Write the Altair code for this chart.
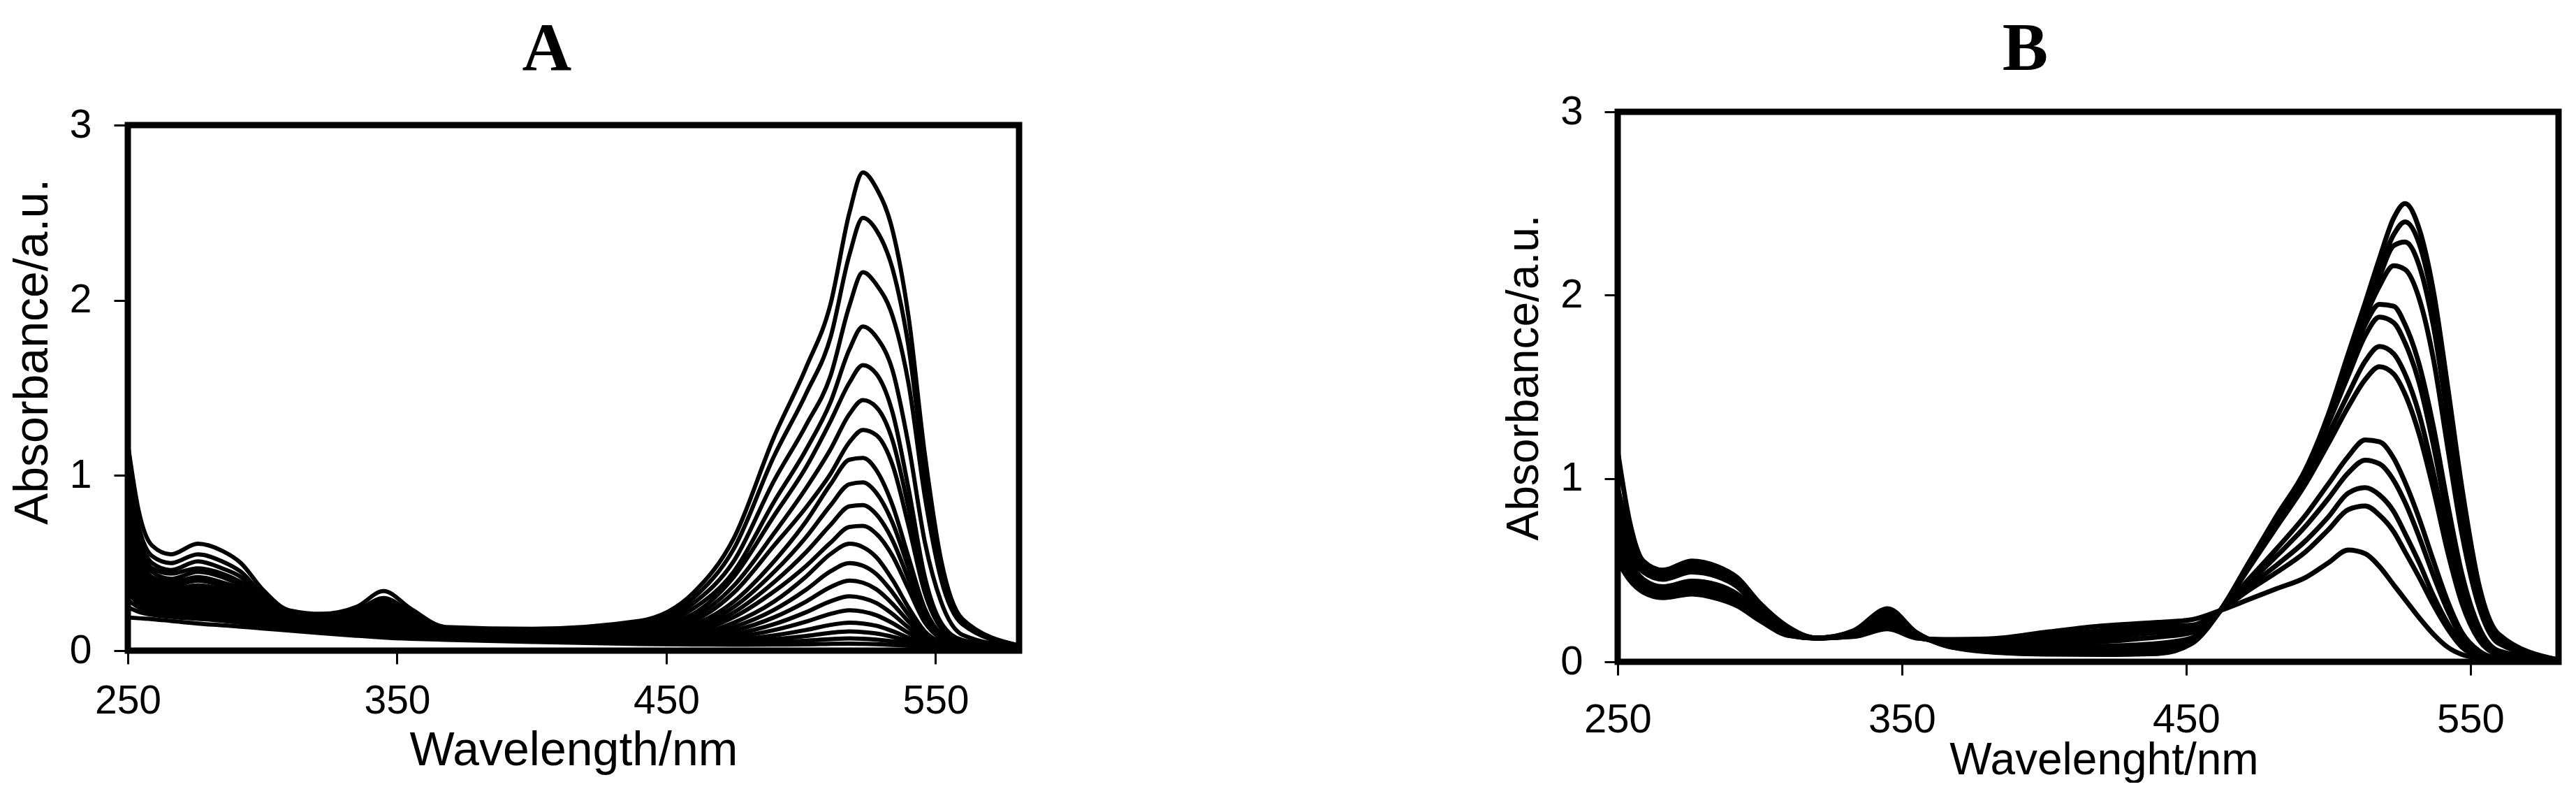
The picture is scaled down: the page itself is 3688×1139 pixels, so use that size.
import altair as alt
import pandas as pd

# ---------------- Panel A: wavelengths (nm) and absorbance curves ----------------
WL_A = [250, 254, 259, 266, 276, 285, 292, 300, 310, 322, 335, 345, 355, 368, 400, 440,
        460, 475, 490, 502, 511, 518, 523, 528, 534, 540, 546, 552, 560, 581]

A_01 = [1.18, 0.80, 0.60, 0.55, 0.61, 0.57, 0.50, 0.35, 0.23, 0.21, 0.25, 0.34, 0.24, 0.135, 0.125, 0.17, 0.33, 0.64, 1.22, 1.62, 1.98, 2.50, 2.73, 2.64, 2.40, 1.90, 1.12, 0.52, 0.18, 0.03]
A_02 = [1.04, 0.71, 0.54, 0.50, 0.55, 0.51, 0.45, 0.32, 0.21, 0.20, 0.23, 0.30, 0.22, 0.125, 0.115, 0.15, 0.30, 0.58, 1.11, 1.47, 1.79, 2.26, 2.47, 2.40, 2.18, 1.73, 1.01, 0.47, 0.165, 0.027]
A_03 = [0.95, 0.66, 0.50, 0.46, 0.51, 0.47, 0.42, 0.30, 0.20, 0.185, 0.21, 0.28, 0.20, 0.118, 0.108, 0.14, 0.27, 0.51, 0.97, 1.29, 1.57, 1.97, 2.16, 2.09, 1.91, 1.52, 0.88, 0.41, 0.15, 0.025]
A_04 = [0.88, 0.62, 0.47, 0.44, 0.47, 0.44, 0.39, 0.28, 0.196, 0.177, 0.20, 0.26, 0.19, 0.113, 0.103, 0.13, 0.24, 0.45, 0.85, 1.15, 1.42, 1.72, 1.85, 1.79, 1.60, 1.17, 0.62, 0.28, 0.09, 0.02]
A_05 = [0.82, 0.58, 0.45, 0.41, 0.45, 0.42, 0.37, 0.27, 0.19, 0.17, 0.19, 0.245, 0.178, 0.109, 0.098, 0.122, 0.21, 0.42, 0.77, 1.05, 1.31, 1.53, 1.63, 1.58, 1.36, 0.92, 0.42, 0.16, 0.06, 0.015]
A_06 = [0.76, 0.54, 0.42, 0.39, 0.42, 0.39, 0.35, 0.256, 0.182, 0.164, 0.181, 0.229, 0.168, 0.104, 0.094, 0.115, 0.19, 0.37, 0.67, 0.93, 1.15, 1.35, 1.43, 1.39, 1.20, 0.81, 0.37, 0.15, 0.053, 0.014]
A_07 = [0.715, 0.51, 0.40, 0.37, 0.40, 0.37, 0.33, 0.245, 0.176, 0.158, 0.172, 0.215, 0.159, 0.101, 0.09, 0.108, 0.17, 0.33, 0.60, 0.82, 1.01, 1.19, 1.26, 1.23, 1.06, 0.71, 0.33, 0.13, 0.049, 0.014]
A_08 = [0.665, 0.48, 0.38, 0.35, 0.373, 0.349, 0.311, 0.234, 0.17, 0.153, 0.164, 0.202, 0.151, 0.097, 0.086, 0.101, 0.15, 0.28, 0.51, 0.74, 0.95, 1.09, 1.10, 1.03, 0.83, 0.53, 0.24, 0.096, 0.038, 0.01]
A_09 = [0.626, 0.456, 0.365, 0.337, 0.355, 0.332, 0.297, 0.225, 0.166, 0.148, 0.158, 0.192, 0.144, 0.094, 0.083, 0.096, 0.133, 0.248, 0.449, 0.65, 0.83, 0.95, 0.96, 0.90, 0.73, 0.47, 0.21, 0.086, 0.035, 0.01]
A_10 = [0.586, 0.431, 0.348, 0.322, 0.337, 0.315, 0.282, 0.216, 0.161, 0.144, 0.151, 0.181, 0.137, 0.091, 0.08, 0.091, 0.119, 0.218, 0.391, 0.564, 0.718, 0.824, 0.831, 0.778, 0.63, 0.406, 0.185, 0.077, 0.033, 0.01]
A_11 = [0.546, 0.406, 0.331, 0.307, 0.319, 0.298, 0.268, 0.207, 0.156, 0.14, 0.144, 0.17, 0.13, 0.088, 0.077, 0.086, 0.107, 0.191, 0.338, 0.485, 0.616, 0.706, 0.712, 0.667, 0.541, 0.349, 0.161, 0.069, 0.03, 0.01]
A_12 = [0.507, 0.382, 0.314, 0.292, 0.301, 0.281, 0.253, 0.198, 0.152, 0.135, 0.138, 0.16, 0.123, 0.085, 0.074, 0.08, 0.092, 0.159, 0.28, 0.424, 0.552, 0.61, 0.591, 0.533, 0.404, 0.245, 0.11, 0.049, 0.024, 0.01]
A_13 = [0.467, 0.357, 0.298, 0.276, 0.282, 0.264, 0.239, 0.189, 0.147, 0.131, 0.131, 0.149, 0.116, 0.082, 0.071, 0.075, 0.081, 0.135, 0.233, 0.349, 0.453, 0.50, 0.485, 0.437, 0.332, 0.203, 0.093, 0.044, 0.023, 0.01]
A_14 = [0.438, 0.339, 0.285, 0.265, 0.269, 0.251, 0.228, 0.183, 0.144, 0.128, 0.126, 0.141, 0.111, 0.08, 0.069, 0.071, 0.071, 0.113, 0.19, 0.281, 0.363, 0.40, 0.388, 0.35, 0.267, 0.165, 0.078, 0.039, 0.022, 0.01]
A_15 = [0.408, 0.32, 0.272, 0.254, 0.255, 0.239, 0.217, 0.176, 0.14, 0.124, 0.121, 0.133, 0.106, 0.078, 0.067, 0.067, 0.062, 0.093, 0.151, 0.22, 0.282, 0.31, 0.30, 0.272, 0.209, 0.131, 0.065, 0.034, 0.021, 0.01]
A_16 = [0.368, 0.296, 0.256, 0.238, 0.237, 0.222, 0.202, 0.167, 0.136, 0.12, 0.115, 0.123, 0.099, 0.075, 0.064, 0.062, 0.054, 0.076, 0.117, 0.166, 0.21, 0.23, 0.223, 0.202, 0.157, 0.101, 0.053, 0.03, 0.02, 0.01]
A_17 = [0.329, 0.271, 0.239, 0.223, 0.219, 0.205, 0.188, 0.158, 0.131, 0.115, 0.108, 0.112, 0.092, 0.072, 0.061, 0.056, 0.047, 0.06, 0.087, 0.118, 0.147, 0.16, 0.155, 0.142, 0.111, 0.074, 0.042, 0.027, 0.018, 0.01]
A_18 = [0.289, 0.247, 0.222, 0.208, 0.201, 0.188, 0.173, 0.149, 0.127, 0.111, 0.102, 0.102, 0.085, 0.069, 0.058, 0.051, 0.042, 0.049, 0.065, 0.084, 0.102, 0.11, 0.106, 0.098, 0.079, 0.055, 0.035, 0.024, 0.018, 0.01]
A_19 = [0.249, 0.222, 0.205, 0.193, 0.182, 0.171, 0.159, 0.14, 0.122, 0.107, 0.095, 0.091, 0.078, 0.066, 0.055, 0.046, 0.038, 0.041, 0.048, 0.057, 0.066, 0.07, 0.068, 0.063, 0.053, 0.04, 0.029, 0.022, 0.018, 0.01]
A_20 = [0.19, 0.185, 0.18, 0.17, 0.155, 0.145, 0.137, 0.127, 0.115, 0.10, 0.085, 0.075, 0.068, 0.062, 0.05, 0.038, 0.035, 0.034, 0.035, 0.036, 0.039, 0.04, 0.039, 0.037, 0.033, 0.028, 0.024, 0.021, 0.018, 0.01]

# ---------------- Panel B: wavelengths (nm) and absorbance curves ----------------
WL_B = [250, 254, 259, 266, 276, 285, 292, 300, 310, 320, 333, 345, 355, 365, 380, 400, 420, 440,
        452, 462, 472, 482, 492, 500, 507, 513, 518, 523, 527, 532, 537, 542, 547, 553, 560, 581]

B_01 = [1.15, 0.78, 0.55, 0.50, 0.55, 0.52, 0.46, 0.32, 0.19, 0.13, 0.17, 0.29, 0.16, 0.09, 0.055, 0.042, 0.04, 0.045,
        0.10, 0.28, 0.54, 0.80, 1.05, 1.35, 1.68, 1.96, 2.20, 2.42, 2.50, 2.36, 2.02, 1.50, 0.95, 0.42, 0.15, 0.01]
B_02 = [0.95, 0.70, 0.53, 0.49, 0.54, 0.51, 0.45, 0.31, 0.185, 0.13, 0.165, 0.28, 0.16, 0.09, 0.058, 0.045, 0.044, 0.05,
        0.11, 0.28, 0.53, 0.79, 1.04, 1.33, 1.64, 1.92, 2.14, 2.33, 2.40, 2.28, 1.95, 1.44, 0.90, 0.40, 0.14, 0.01]
B_03 = [0.85, 0.66, 0.52, 0.48, 0.53, 0.50, 0.44, 0.30, 0.18, 0.13, 0.16, 0.27, 0.155, 0.092, 0.06, 0.048, 0.048, 0.055,
        0.11, 0.28, 0.53, 0.79, 1.04, 1.33, 1.63, 1.90, 2.10, 2.27, 2.29, 2.16, 1.83, 1.33, 0.82, 0.36, 0.12, 0.01]
B_04 = [0.80, 0.63, 0.51, 0.47, 0.52, 0.49, 0.43, 0.295, 0.178, 0.13, 0.158, 0.26, 0.15, 0.094, 0.063, 0.052, 0.053, 0.06,
        0.11, 0.28, 0.53, 0.79, 1.04, 1.33, 1.62, 1.88, 2.05, 2.16, 2.14, 1.98, 1.65, 1.17, 0.70, 0.30, 0.10, 0.01]
B_05 = [0.76, 0.61, 0.50, 0.46, 0.51, 0.48, 0.42, 0.29, 0.175, 0.13, 0.155, 0.25, 0.15, 0.096, 0.066, 0.056, 0.058, 0.07,
        0.12, 0.28, 0.53, 0.79, 1.04, 1.32, 1.60, 1.84, 1.95, 1.94, 1.84, 1.62, 1.28, 0.86, 0.48, 0.19, 0.06, 0.01]
B_06 = [0.73, 0.59, 0.49, 0.45, 0.49, 0.465, 0.41, 0.28, 0.17, 0.13, 0.152, 0.24, 0.148, 0.098, 0.07, 0.062, 0.066, 0.08,
        0.12, 0.28, 0.53, 0.78, 1.03, 1.30, 1.56, 1.78, 1.88, 1.85, 1.74, 1.52, 1.18, 0.78, 0.43, 0.17, 0.05, 0.01]
B_07 = [0.68, 0.55, 0.45, 0.41, 0.44, 0.42, 0.37, 0.26, 0.16, 0.13, 0.15, 0.22, 0.145, 0.10, 0.074, 0.068, 0.075, 0.09,
        0.13, 0.28, 0.52, 0.76, 1.00, 1.24, 1.46, 1.64, 1.72, 1.68, 1.57, 1.35, 1.03, 0.67, 0.36, 0.14, 0.04, 0.01]
B_08 = [0.65, 0.52, 0.43, 0.39, 0.42, 0.40, 0.355, 0.25, 0.155, 0.13, 0.148, 0.21, 0.14, 0.102, 0.078, 0.075, 0.085, 0.10,
        0.13, 0.28, 0.51, 0.74, 0.97, 1.19, 1.39, 1.54, 1.61, 1.57, 1.46, 1.24, 0.94, 0.60, 0.32, 0.12, 0.04, 0.01]
B_09 = [0.62, 0.50, 0.42, 0.38, 0.41, 0.385, 0.345, 0.245, 0.152, 0.13, 0.146, 0.20, 0.138, 0.106, 0.09, 0.095, 0.11, 0.135,
        0.16, 0.28, 0.45, 0.62, 0.80, 0.97, 1.12, 1.21, 1.20, 1.11, 0.98, 0.78, 0.55, 0.33, 0.16, 0.06, 0.02, 0.01]
B_10 = [0.60, 0.48, 0.41, 0.37, 0.40, 0.375, 0.335, 0.24, 0.15, 0.13, 0.144, 0.195, 0.136, 0.11, 0.098, 0.11, 0.13, 0.16,
        0.17, 0.28, 0.43, 0.58, 0.74, 0.89, 1.03, 1.10, 1.08, 0.99, 0.87, 0.68, 0.47, 0.28, 0.13, 0.05, 0.02, 0.01]
B_11 = [0.58, 0.47, 0.40, 0.365, 0.39, 0.365, 0.325, 0.235, 0.148, 0.13, 0.142, 0.19, 0.134, 0.114, 0.106, 0.125, 0.15, 0.18,
        0.19, 0.28, 0.41, 0.53, 0.66, 0.79, 0.92, 0.95, 0.91, 0.82, 0.70, 0.54, 0.36, 0.21, 0.10, 0.04, 0.015, 0.01]
B_12 = [0.56, 0.46, 0.39, 0.36, 0.38, 0.355, 0.315, 0.23, 0.146, 0.13, 0.14, 0.185, 0.132, 0.118, 0.114, 0.14, 0.17, 0.195,
        0.20, 0.28, 0.39, 0.49, 0.60, 0.72, 0.83, 0.85, 0.80, 0.71, 0.60, 0.46, 0.31, 0.18, 0.08, 0.03, 0.015, 0.01]
B_13 = [0.55, 0.45, 0.38, 0.35, 0.37, 0.345, 0.305, 0.225, 0.144, 0.13, 0.138, 0.18, 0.13, 0.122, 0.125, 0.16, 0.195, 0.215,
        0.23, 0.28, 0.34, 0.40, 0.46, 0.54, 0.61, 0.59, 0.52, 0.42, 0.34, 0.24, 0.15, 0.08, 0.04, 0.02, 0.01, 0.01]

X_TICKS = [250, 350, 450, 550]
Y_TICKS = [0, 1, 2, 3]
X_RANGE = [250, 581]      # wavelength span of both frames
Y_RANGE = [0, 3]          # absorbance span of both frames

A_SERIES = [A_01, A_02, A_03, A_04, A_05, A_06, A_07, A_08, A_09, A_10,
            A_11, A_12, A_13, A_14, A_15, A_16, A_17, A_18, A_19, A_20]
B_SERIES = [B_01, B_02, B_03, B_04, B_05, B_06, B_07, B_08, B_09, B_10, B_11, B_12, B_13]


def to_long(wl, series, prefix):
    rows = []
    for i, s in enumerate(series):
        for w, v in zip(wl, s):
            rows.append({"wl": w, "absorb": v, "curve": f"{prefix}{i + 1:02d}"})
    return pd.DataFrame(rows)


df_a = to_long(WL_A, A_SERIES, "A")
df_b = to_long(WL_B, B_SERIES, "B")
frame_df = pd.DataFrame([{"wl": X_RANGE[0], "wl2": X_RANGE[1], "absorb": Y_RANGE[0], "absorb2": Y_RANGE[1]}])

SANS = "Liberation Sans"
SERIF = "Liberation Serif"


def panel(df, title, tdx, toffset, w, h, ydomain, xoffset, xtitle, lab_fs, ttl_fs,
          x_lpad, x_tick, x_tx, x_ty, y_lpad, y_tick, y_tx, y_ty, sw):
    common = dict(labelFont=SANS, labelColor="black", labelFlush=False, labelOverlap=False,
                  tickColor="black", tickWidth=3, domain=False, grid=False,
                  titleFont=SANS, titleColor="black", titleFontWeight="normal",
                  titleBaseline="alphabetic", titleAlign="center",
                  labelFontSize=lab_fs, titleFontSize=ttl_fs)
    xscale = alt.Scale(domain=X_RANGE, nice=False, zero=False)
    yscale = alt.Scale(domain=ydomain, nice=False, zero=False)
    x = alt.X("wl:Q", scale=xscale,
              axis=alt.Axis(values=X_TICKS, title=xtitle, labelPadding=x_lpad, tickSize=x_tick,
                            offset=xoffset, titleX=x_tx, titleY=x_ty, **common))
    y = alt.Y("absorb:Q", scale=yscale,
              axis=alt.Axis(values=Y_TICKS, title="Absorbance/a.u.", labelPadding=y_lpad, tickSize=y_tick,
                            titleX=y_tx, titleY=y_ty, titleAngle=270, **common))
    lines = (
        alt.Chart(df)
        .mark_line(color="black", strokeWidth=sw, interpolate="monotone", clip=True)
        .encode(x=x, y=y, detail="curve:N")
    )
    frame = (
        alt.Chart(frame_df)
        .mark_rect(fill="transparent", stroke="black", strokeWidth=9)
        .encode(x=x, x2="wl2:Q", y=y, y2="absorb2:Q")
    )
    return alt.layer(lines, frame).properties(
        width=w, height=h,
        title=alt.TitleParams(text=title, font=SERIF, fontSize=98, fontWeight="bold",
                              color="black", anchor="middle", frame="group",
                              dx=tdx, offset=toffset, baseline="alphabetic"),
    )


# Panel A's view is as tall as B's, so its scale domain is widened slightly
# beyond 0..3; its frame is drawn at exactly 0..3 absorbance.
chart_a = panel(df_a, "A", -38, -48, 1276, 787, [-0.0638, 3.0758], -16, "Wavelength/nm", 57, 68,
                25, 19, 638, 163, 32, 20, -116, 343, 6)
chart_b = panel(df_b, "B", -90, -67, 1347, 787, Y_RANGE, 0, "Wavelenght/nm", 58, 64,
                35, 19, 696, 160, 31, 19, -115, 380, 7)

chart = (
    alt.hconcat(chart_a, chart_b, spacing=686)
    .properties(padding={"left": 5, "top": 14, "right": 0, "bottom": 0}, background="white")
    .configure_view(strokeWidth=0)
)

chart.save("out.html", embed_options={"renderer": "svg", "actions": False})
